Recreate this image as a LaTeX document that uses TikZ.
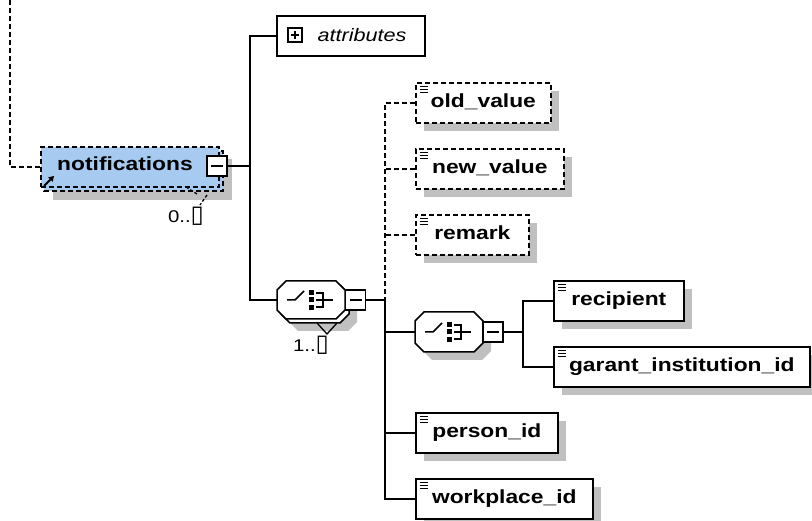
\documentclass[tikz,border=0pt]{standalone}
\usepackage{fontspec}
\setmainfont{Liberation Sans}
\newfontfamily\elfont[FakeStretch=1.2]{Liberation Sans}
\newfontfamily\symfont{DejaVu Sans}
\usetikzlibrary{shadows,arrows.meta}
\definecolor{selblue}{HTML}{A6CAF0}
\definecolor{shgray}{HTML}{C0C0C0}
\newcommand\myoct[4]{(#1+9,#2) -- (#3-9,#2) -- (#3,#2+9) -- (#3,#4-9) -- (#3-9,#4) -- (#1+9,#4) -- (#1,#4-9) -- (#1,#2+9) -- cycle}
\newcommand\seqicon[2]{%
  \draw[line width=1.5pt] (#1-24,#2) -- (#1-16,#2) -- (#1-7,#2-9);
  \fill (#1-2,#2-10) rectangle (#1+3,#2-5);
  \fill (#1-2,#2-2.5) rectangle (#1+3,#2+2.5);
  \fill (#1-2,#2+5) rectangle (#1+3,#2+10);
  \draw[line width=1.5pt] (#1+5,#2-7) -- (#1+12,#2-7) -- (#1+12,#2+7) -- (#1+5,#2+7);
  \draw[line width=1.5pt] (#1+5,#2) -- (#1+22,#2);}
\begin{document}
\begin{tikzpicture}[x=1pt,y=-1pt,line width=1.6pt,
  conn/.style={line width=1.6pt},
  dconn/.style={line width=1.6pt, dash pattern=on 5pt off 3pt},
  eltext/.style={font=\elfont\bfseries\fontsize{19}{22}\selectfont, text height=14pt, text depth=4pt},
  elbox/.style={draw, line width=1.6pt, fill=white, eltext, minimum height=40pt, inner sep=0pt, anchor=north west,
    drop shadow={shadow xshift=8pt, shadow yshift=-8pt, fill=shgray, opacity=1},
    path picture={\foreach \k in {3.5,6.5,9.5}{\draw[line width=1.3pt, solid] ([shift={(4pt,-\k pt)}]path picture bounding box.north west) -- ++(8pt,0pt);}}},
  optbox/.style={elbox, dash pattern=on 5pt off 3pt},
  pmbox/.style={draw, solid, fill=white, line width=1.6pt, minimum width=20pt, minimum height=20pt, inner sep=0pt,
    path picture={\draw[line width=1.5pt] ([xshift=4pt]path picture bounding box.west) -- ([xshift=-4pt]path picture bounding box.east);}},
  multlab/.style={font=\elfont\fontsize{17}{20}\selectfont, inner sep=0pt}
]
\useasboundingbox (0,0) rectangle (812,521);

% ---------- notifications ----------
\fill[shgray] (53,159) rectangle (232,200);
\draw[dconn, fill=selblue] (44,151) rectangle (223,191);
\node[draw, dash pattern=on 5pt off 3pt, line width=1.6pt, fill=selblue, anchor=north west, minimum width=178pt, minimum height=40pt, inner sep=0pt] (notif) at (40,146) {};
\node[eltext, inner sep=0pt] (notiftxt) at (125,166) {notifications};
\node[pmbox] (notifm) at (217,166) {};
\draw[line width=2pt, -{Triangle[length=5pt,width=6pt]}] (44,186) -- (54,176);
\draw[line width=1.3pt, dash pattern=on 3pt off 2pt] (186,187) -- (197,194);
\draw[line width=1.3pt, dash pattern=on 3pt off 2pt] (207,195) -- (200,205);
\node[multlab] (m0) at (186,216) {0..{\symfont\fontsize{24}{24}\selectfont ▯}};

% ---------- attributes ----------
\node[draw, line width=1.6pt, anchor=north west, minimum width=148pt, minimum height=40pt, inner sep=0pt] (attr) at (276,15) {};
\node[draw, line width=1.4pt, minimum width=14pt, minimum height=14pt, inner sep=0pt,
  path picture={\draw[line width=1.3pt] ([xshift=3pt]path picture bounding box.west) -- ([xshift=-3pt]path picture bounding box.east);
                \draw[line width=1.3pt] ([yshift=-3pt]path picture bounding box.north) -- ([yshift=3pt]path picture bounding box.south);}] (attrpm) at (295,35) {};
\node[font=\elfont\itshape\fontsize{18}{22}\selectfont, inner sep=0pt] (attrtxt) at (362,35) {attributes};

% ---------- outer sequence ----------
\fill[shgray] \myoct{289}{293}{357}{331};
\draw[line width=1.5pt, fill=white] \myoct{281}{285}{349}{323};
\draw[line width=1.5pt, fill=white] \myoct{277}{281}{345}{319};
\coordinate (seq1w) at (277,300);
\seqicon{311}{300}
\node[pmbox] (seq1m) at (355.5,300) {};
\draw[line width=1.3pt] (317,323) -- (327,334) -- (337,323);
\node[multlab] (m1) at (311,345) {1..{\symfont\fontsize{24}{24}\selectfont ▯}};

% ---------- inner sequence ----------
\fill[shgray] \myoct{423}{320}{491}{360};
\draw[line width=1.5pt, fill=white] \myoct{415}{312}{483}{352};
\coordinate (seq2w) at (415,332);
\seqicon{449}{332}
\node[pmbox] (seq2m) at (493,332) {};

% ---------- elements ----------
\node[optbox, minimum width=135pt] (old) at (415,82) {old\_value};
\node[optbox, minimum width=148pt] (new) at (415,148) {new\_value};
\node[optbox, minimum width=113pt] (rem) at (415,214) {remark};
\node[elbox, minimum width=130pt] (rec) at (553,280) {recipient};
\node[elbox, minimum width=256pt] (gar) at (553,346) {garant\_institution\_id};
\node[elbox, minimum width=142pt] (per) at (415,412) {person\_id};
\node[elbox, minimum width=177pt] (wrk) at (415,478) {workplace\_id};

% ---------- connectors ----------
\coordinate (top) at (10,0);
\coordinate (v1) at (250,0);
\coordinate (v2) at (385,0);
\coordinate (v3) at (523,0);
\draw[dconn] (top) |- (notif.west);
\draw[conn] (notifm.east) -- (notifm.east -| v1);
\draw[conn] (attr.west) -- (attr.west -| v1) -- (seq1w -| v1) -- (seq1w);
\draw[conn] (seq1m.east) -- (seq1m.east -| v2);
\draw[dconn] (old.west) -- (old.west -| v2) -- (seq1m.east -| v2);
\draw[dconn] (new.west) -- (new.west -| v2);
\draw[dconn] (rem.west) -- (rem.west -| v2);
\draw[conn] (seq1m.east -| v2) -- (wrk.west -| v2) -- (wrk.west);
\draw[conn] (per.west -| v2) -- (per.west);
\draw[conn] (seq2w -| v2) -- (seq2w);
\draw[conn] (seq2m.east) -- (seq2m.east -| v3);
\draw[conn] (rec.west) -- (rec.west -| v3) -- (gar.west -| v3) -- (gar.west);
\end{tikzpicture}
\end{document}
